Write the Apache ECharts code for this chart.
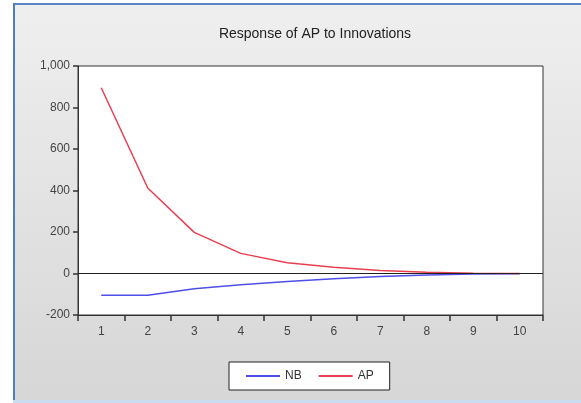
<!DOCTYPE html>
<html><head><meta charset="utf-8">
<script src="https://cdn.jsdelivr.net/npm/echarts@6/dist/echarts.min.js"></script>
<style>html,body{margin:0;padding:0;background:#fff}#c{width:581px;height:403px}</style>
</head><body><div id="c"></div>
<script>
const categories = ['1','2','3','4','5','6','7','8','9','10'];
const nbValues = [-105, -105, -73, -54, -38, -25, -15, -7, -3, -1];
const apValues = [895, 412, 198, 97, 52, 30, 14, 6, 1, 0];
const yTicks = {min: -200, max: 1000, interval: 200};

const chart = echarts.init(document.getElementById('c'), null, {renderer: 'canvas'});
chart.setOption({
  backgroundColor: '#ffffff',
  animation: false,
  graphic: [
    {type: 'rect', z: -10, shape: {x: 13, y: 3, width: 568, height: 400},
     style: {fill: new echarts.graphic.LinearGradient(0, 0, 0, 1, [
       {offset: 0, color: '#f0efef'}, {offset: 1, color: '#d6d6d6'}])}},
    {type: 'rect', z: -9, shape: {x: 13, y: 3, width: 568, height: 2}, style: {fill: '#5a86c2'}},
    {type: 'rect', z: -9, shape: {x: 13, y: 3, width: 2, height: 400}, style: {fill: '#4f7dbd'}},
    {type: 'rect', z: -9, shape: {x: 13, y: 400, width: 568, height: 3}, style: {fill: '#c9dcf0'}}
  ],
  title: {
    text: 'Response of AP to Innovations', left: 310, top: 22, textAlign: 'center',
    textStyle: {fontFamily: 'Liberation Sans, Arial', fontSize: 14, fontWeight: 'normal', color: '#222'}
  },
  legend: {
    data: ['NB', 'AP'], left: 229, top: 362, width: 160,
    backgroundColor: '#ffffff', borderColor: '#222', borderWidth: 1,
    padding: [8, 16, 8, 16], itemWidth: 34, itemHeight: 2, itemGap: 16,
    textStyle: {fontFamily: 'Liberation Sans, Arial', fontSize: 12, color: '#333'}
  },
  grid: {
    left: 78, right: 38, top: 66, bottom: 88, show: true,
    backgroundColor: '#ffffff', borderColor: '#333', borderWidth: 1
  },
  xAxis: {
    type: 'category', data: categories, boundaryGap: true,
    axisLine: {show: true, onZero: false, lineStyle: {color: '#333'}},
    axisTick: {show: true, length: 6, alignWithLabel: false, lineStyle: {color: '#333', width: 1.5}},
    axisLabel: {margin: 11, fontFamily: 'Liberation Sans, Arial', fontSize: 12, color: '#444'},
    splitLine: {show: false}
  },
  yAxis: {
    type: 'value', min: yTicks.min, max: yTicks.max, interval: yTicks.interval,
    axisLine: {show: true, lineStyle: {color: '#333'}},
    axisTick: {show: true, length: 5, lineStyle: {color: '#333', width: 1.5}},
    axisLabel: {margin: 8, fontFamily: 'Liberation Sans, Arial', fontSize: 12, color: '#444',
      formatter: v => v.toLocaleString('en-US')},
    splitLine: {show: false}
  },
  series: [
    {name: 'NB', type: 'line', data: nbValues, symbol: 'none', color: '#4e4ee8',
     lineStyle: {width: 1.5, color: '#4e4ee8'},
     markLine: {silent: true, symbol: 'none', label: {show: false},
       lineStyle: {color: '#222', width: 1, type: 'solid'}, data: [{yAxis: 0}]}},
    {name: 'AP', type: 'line', data: apValues, symbol: 'none', color: '#e84050',
     lineStyle: {width: 1.5, color: '#e84050'}}
  ]
});
</script></body></html>
